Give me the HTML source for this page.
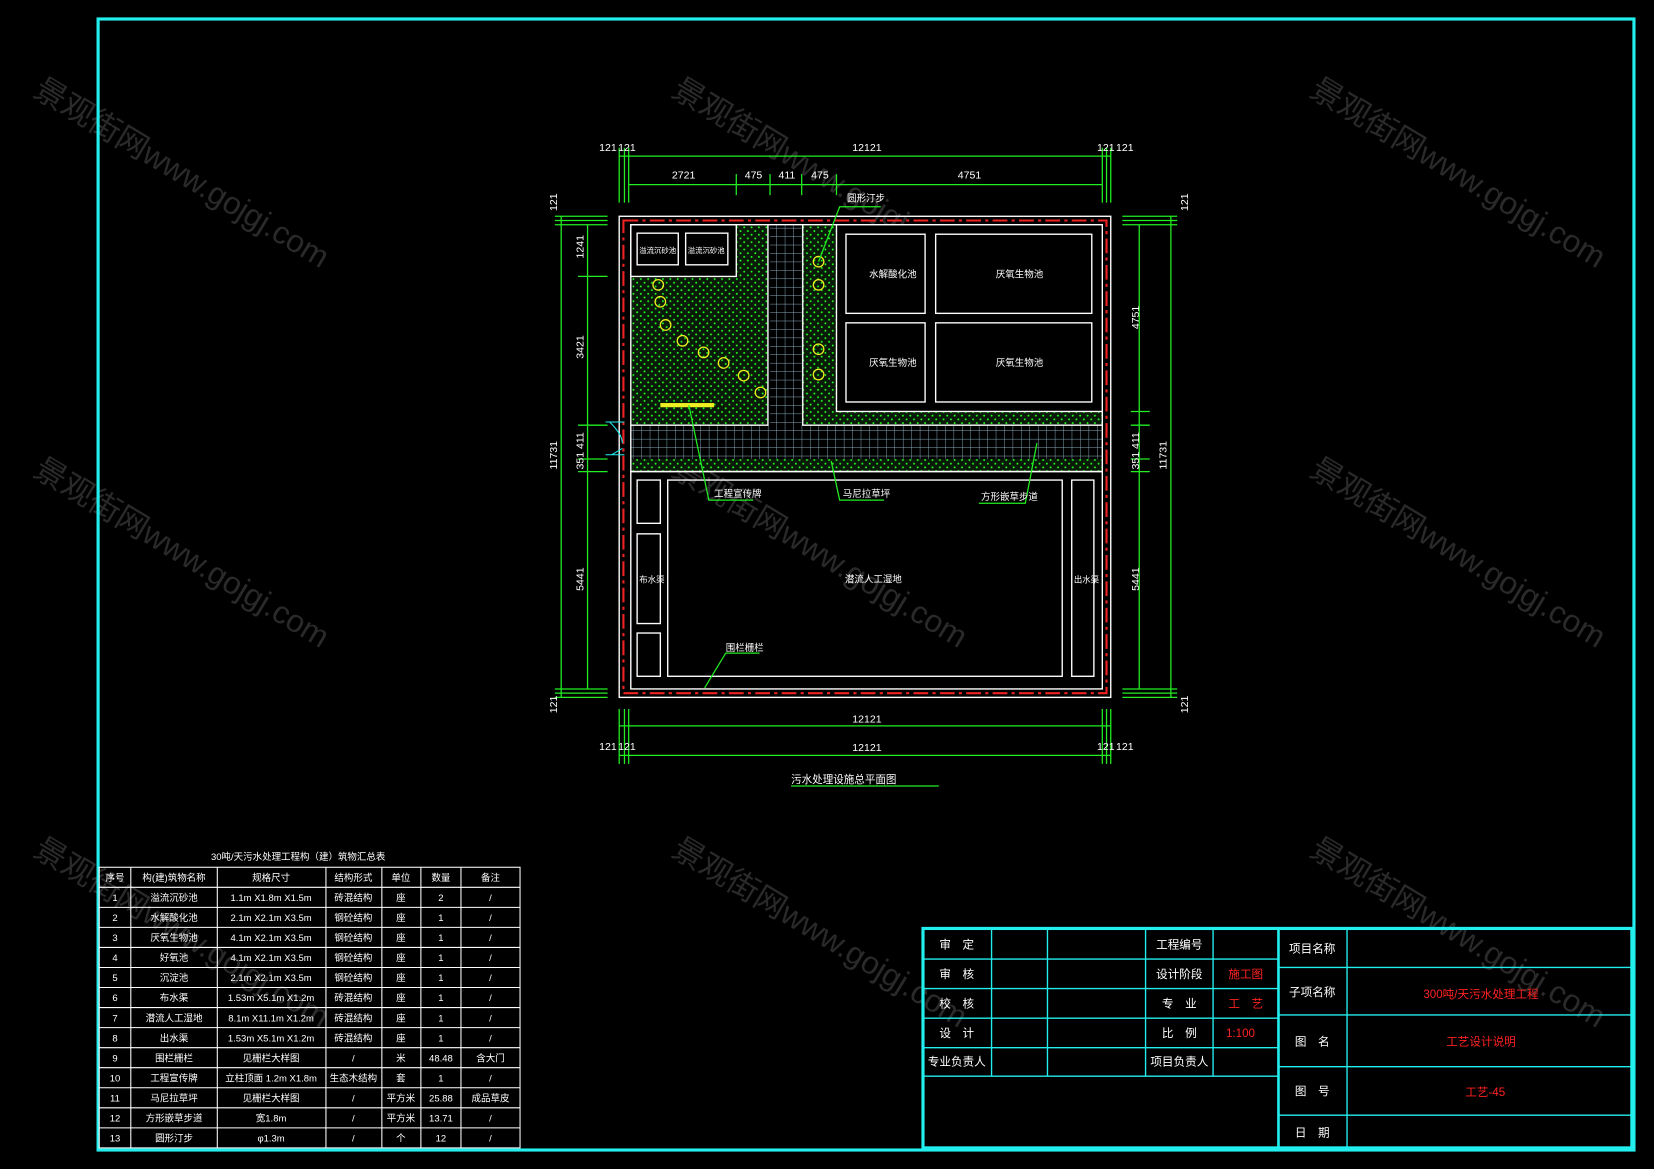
<!DOCTYPE html>
<html><head><meta charset="utf-8"><style>
html,body{margin:0;padding:0;background:#000;width:1654px;height:1169px;overflow:hidden}
svg{display:block}
text{font-family:"Liberation Sans","Noto Sans CJK SC",sans-serif;fill:#fff}
</style></head><body>
<svg width="1654" height="1169" viewBox="0 0 1568 1108" preserveAspectRatio="none" xmlns="http://www.w3.org/2000/svg">
<defs>
<pattern id="dots" width="7" height="7" patternUnits="userSpaceOnUse"><rect width="7" height="7" fill="#0a1a08"/><circle cx="2" cy="2" r="0.9" fill="#2f2"/><circle cx="5.5" cy="5.5" r="0.9" fill="#2f2"/></pattern>
<pattern id="grid" width="8" height="8" patternUnits="userSpaceOnUse"><rect width="8" height="8" fill="#000"/><path d="M0 0H8M0 0V8" stroke="#8ab" stroke-width="0.9"/></pattern>
</defs>
<rect width="1568" height="1108" fill="#000"/>
<!-- watermarks -->
<g font-size="30">
<text transform="translate(30,90) rotate(31)" style="fill:#2a2a2a">景观街网www.gojgj.com</text>
<text transform="translate(635,90) rotate(31)" style="fill:#2a2a2a">景观街网www.gojgj.com</text>
<text transform="translate(1240,90) rotate(31)" style="fill:#2a2a2a">景观街网www.gojgj.com</text>
<text transform="translate(30,450) rotate(31)" style="fill:#2a2a2a">景观街网www.gojgj.com</text>
<text transform="translate(635,450) rotate(31)" style="fill:#2a2a2a">景观街网www.gojgj.com</text>
<text transform="translate(1240,450) rotate(31)" style="fill:#2a2a2a">景观街网www.gojgj.com</text>
<text transform="translate(30,810) rotate(31)" style="fill:#2a2a2a">景观街网www.gojgj.com</text>
<text transform="translate(635,810) rotate(31)" style="fill:#2a2a2a">景观街网www.gojgj.com</text>
<text transform="translate(1240,810) rotate(31)" style="fill:#2a2a2a">景观街网www.gojgj.com</text>
</g>
<!-- frame -->
<rect x="93" y="18" width="1456" height="1072" fill="none" stroke="#2ee" stroke-width="3"/>

<!-- PLAN -->
<rect x="598" y="213" width="130" height="190" fill="url(#dots)"/>
<rect x="761" y="213" width="32" height="190" fill="url(#dots)"/>
<rect x="761" y="390" width="284" height="13" fill="url(#dots)"/>
<rect x="598" y="435" width="447" height="12" fill="url(#dots)"/>
<rect x="730" y="213" width="30" height="190" fill="url(#grid)"/>
<rect x="598" y="403" width="447" height="32" fill="url(#grid)"/>
<g fill="none" stroke="#fff" stroke-width="1.3">
<rect x="587" y="205" width="466" height="456"/>
<rect x="598" y="213" width="100" height="49" fill="#000"/>
<rect x="604" y="221" width="39" height="30"/>
<rect x="650" y="221" width="40" height="30"/>
<path d="M598 213H1045V447H598Z M728 213V403H598 M761 213V403H1045"/>
<rect x="793" y="213" width="252" height="177" fill="#000"/>
<rect x="802" y="222" width="75" height="75"/>
<rect x="887" y="222" width="148" height="75"/>
<rect x="802" y="306" width="75" height="75"/>
<rect x="887" y="306" width="148" height="75"/>
<path d="M598 447H1045V653H598Z"/>
<rect x="604" y="455" width="22" height="41"/>
<rect x="604" y="506" width="22" height="85"/>
<rect x="604" y="600" width="22" height="41"/>
<rect x="633" y="455" width="374" height="186"/>
<rect x="1016" y="455" width="21" height="186"/>
</g>
<rect x="591" y="209" width="458" height="448" fill="none" stroke="#e22" stroke-width="2" stroke-dasharray="14,4,3,4"/>
<g fill="none" stroke="#ee2" stroke-width="1.2">
<circle cx="624" cy="270" r="5"/><circle cx="626" cy="286" r="5"/><circle cx="631" cy="308" r="5"/><circle cx="647" cy="323" r="5"/><circle cx="667" cy="334" r="5"/><circle cx="686" cy="344" r="5"/><circle cx="705" cy="356" r="5"/><circle cx="721" cy="372" r="5"/>
<circle cx="776" cy="248" r="5"/><circle cx="776" cy="270" r="5"/><circle cx="776" cy="331" r="5"/><circle cx="776" cy="355" r="5"/>
</g>
<rect x="626" y="382" width="51" height="4" fill="#ee2"/>
<!-- door -->
<path d="M574 400H592M574 431H592 M578 400 Q590 412 590 420 M580 431 L590 425" stroke="#2ee" fill="none" stroke-width="1"/>
<!-- leaders -->
<g stroke="#2e2" fill="none" stroke-width="1.2">
<path d="M776 248L796 196H835"/>
<path d="M653 384L672 474H714"/>
<path d="M788 437L796 474H838"/>
<path d="M983 420L972 477H928"/>
<path d="M668 652L688 619H720"/>
</g>
<g font-size="9">
<text x="803" y="191">圆形汀步</text>
<text x="606" y="240" font-size="7">溢流沉砂池</text><text x="652" y="240" font-size="7">溢流沉砂池</text>
<text x="824" y="263">水解酸化池</text><text x="944" y="263">厌氧生物池</text>
<text x="824" y="347">厌氧生物池</text><text x="944" y="347">厌氧生物池</text>
<text x="677" y="471">工程宣传牌</text><text x="799" y="471">马尼拉草坪</text><text x="930" y="474">方形嵌草步道</text>
<text x="801" y="552">潜流人工湿地</text><text x="606" y="552" font-size="8">布水渠</text><text x="1018" y="552" font-size="8">出水渠</text>
<text x="688" y="617">围栏栅栏</text>
</g>
<!-- dimensions -->
<g stroke="#2e2" stroke-width="1.2" fill="none">
<path d="M587 148H1053 M596 175H1045 M587 688H1053 M587 716H1053"/>
<path d="M587 140V192 M592 140V192 M596 140V192 M1045 140V192 M1049 140V192 M1053 140V192"/>
<path d="M698 165V185 M730 165V185 M760 165V185 M793 165V185"/>
<path d="M587 672V724 M592 672V724 M596 672V724 M1045 672V724 M1049 672V724 M1053 672V724"/>
<path d="M532 205V661 M557 213V653 M1080 213V653 M1110 205V661"/>
<path d="M526 205H576 M526 209H576 M526 213H576 M548 262H576 M548 403H576 M548 435H576 M548 447H576 M526 653H576 M526 657H576 M526 661H576"/>
<path d="M1064 205H1116 M1064 209H1116 M1064 213H1116 M1072 390H1090 M1072 403H1090 M1072 435H1090 M1072 447H1090 M1064 653H1116 M1064 657H1116 M1064 661H1116"/>
<path d="M750 745H890"/>
</g>
<g font-size="10">
<text x="568" y="143">121</text><text x="586" y="143">121</text><text x="808" y="143">12121</text><text x="1040" y="143">121</text><text x="1058" y="143">121</text>
<text x="637" y="169">2721</text><text x="706" y="169">475</text><text x="738" y="169">411</text><text x="769" y="169">475</text><text x="908" y="169">4751</text>
<text x="808" y="685">12121</text><text x="808" y="712">12121</text>
<text x="568" y="711">121</text><text x="586" y="711">121</text><text x="1040" y="711">121</text><text x="1058" y="711">121</text>
<text transform="translate(528,200) rotate(-90)">121</text>
<text transform="translate(528,445) rotate(-90)">11731</text>
<text transform="translate(528,676) rotate(-90)">121</text>
<text transform="translate(553,245) rotate(-90)">1241</text>
<text transform="translate(553,340) rotate(-90)">3421</text>
<text transform="translate(553,445) rotate(-90)">351 411</text>
<text transform="translate(553,560) rotate(-90)">5441</text>
<text transform="translate(1126,200) rotate(-90)">121</text>
<text transform="translate(1106,445) rotate(-90)">11731</text>
<text transform="translate(1126,676) rotate(-90)">121</text>
<text transform="translate(1080,312) rotate(-90)">4751</text>
<text transform="translate(1080,445) rotate(-90)">351 411</text>
<text transform="translate(1080,560) rotate(-90)">5441</text>
<text x="750" y="742" font-size="10">污水处理设施总平面图</text>
</g>

<!-- TABLE -->
<g font-size="9">
<text x="200" y="815">30吨/天污水处理工程构（建）筑物汇总表</text>
</g>
<g stroke="#fff" stroke-width="1" fill="none">
<rect x="94" y="822" width="399" height="266"/>
<path d="M94 841H493M94 860H493M94 879H493M94 898H493M94 917H493M94 936H493M94 955H493M94 974H493M94 993H493M94 1012H493M94 1031H493M94 1050H493M94 1069H493"/>
<path d="M124 822V1088M206 822V1088M309 822V1088M362 822V1088M399 822V1088M437 822V1088"/>
</g>
<g font-size="9" text-anchor="middle">
<g transform="translate(0,835)"><text x="109">序号</text><text x="165">构(建)筑物名称</text><text x="257">规格尺寸</text><text x="335">结构形式</text><text x="380">单位</text><text x="418">数量</text><text x="465">备注</text></g>
<g transform="translate(0,854)"><text x="109">1</text><text x="165">溢流沉砂池</text><text x="257">1.1m X1.8m X1.5m</text><text x="335">砖混结构</text><text x="380">座</text><text x="418">2</text><text x="465">/</text></g>
<g transform="translate(0,873)"><text x="109">2</text><text x="165">水解酸化池</text><text x="257">2.1m X2.1m X3.5m</text><text x="335">钢砼结构</text><text x="380">座</text><text x="418">1</text><text x="465">/</text></g>
<g transform="translate(0,892)"><text x="109">3</text><text x="165">厌氧生物池</text><text x="257">4.1m X2.1m X3.5m</text><text x="335">钢砼结构</text><text x="380">座</text><text x="418">1</text><text x="465">/</text></g>
<g transform="translate(0,911)"><text x="109">4</text><text x="165">好氧池</text><text x="257">4.1m X2.1m X3.5m</text><text x="335">钢砼结构</text><text x="380">座</text><text x="418">1</text><text x="465">/</text></g>
<g transform="translate(0,930)"><text x="109">5</text><text x="165">沉淀池</text><text x="257">2.1m X2.1m X3.5m</text><text x="335">钢砼结构</text><text x="380">座</text><text x="418">1</text><text x="465">/</text></g>
<g transform="translate(0,949)"><text x="109">6</text><text x="165">布水渠</text><text x="257">1.53m X5.1m X1.2m</text><text x="335">砖混结构</text><text x="380">座</text><text x="418">1</text><text x="465">/</text></g>
<g transform="translate(0,968)"><text x="109">7</text><text x="165">潜流人工湿地</text><text x="257">8.1m X11.1m X1.2m</text><text x="335">砖混结构</text><text x="380">座</text><text x="418">1</text><text x="465">/</text></g>
<g transform="translate(0,987)"><text x="109">8</text><text x="165">出水渠</text><text x="257">1.53m X5.1m X1.2m</text><text x="335">砖混结构</text><text x="380">座</text><text x="418">1</text><text x="465">/</text></g>
<g transform="translate(0,1006)"><text x="109">9</text><text x="165">围栏栅栏</text><text x="257">见栅栏大样图</text><text x="335">/</text><text x="380">米</text><text x="418">48.48</text><text x="465">含大门</text></g>
<g transform="translate(0,1025)"><text x="109">10</text><text x="165">工程宣传牌</text><text x="257">立柱顶面 1.2m X1.8m</text><text x="335">生态木结构</text><text x="380">套</text><text x="418">1</text><text x="465">/</text></g>
<g transform="translate(0,1044)"><text x="109">11</text><text x="165">马尼拉草坪</text><text x="257">见栅栏大样图</text><text x="335">/</text><text x="380">平方米</text><text x="418">25.88</text><text x="465">成品草皮</text></g>
<g transform="translate(0,1063)"><text x="109">12</text><text x="165">方形嵌草步道</text><text x="257">宽1.8m</text><text x="335">/</text><text x="380">平方米</text><text x="418">13.71</text><text x="465">/</text></g>
<g transform="translate(0,1082)"><text x="109">13</text><text x="165">圆形汀步</text><text x="257">φ1.3m</text><text x="335">/</text><text x="380">个</text><text x="418">12</text><text x="465">/</text></g>
</g>

<!-- TITLE BLOCK -->
<rect x="875" y="880" width="672" height="208" fill="none" stroke="#2ee" stroke-width="3"/>
<g stroke="#2ee" stroke-width="1.3" fill="none">
<path d="M875 909H1212M875 937H1212M875 965H1212M875 993H1212M875 1020H1212"/>
<path d="M940 880V1020M993 880V1020M1086 880V1020M1150 880V1020"/>
<path d="M1212 880V1088" stroke-width="2.5"/>
<path d="M1277 880V1088M1212 917H1547M1212 962H1547M1212 1011H1547M1212 1057H1547"/>
</g>
<g font-size="11" text-anchor="middle">
<text x="907" y="899">审　定</text><text x="907" y="927">审　核</text><text x="907" y="955">校　核</text><text x="907" y="983">设　计</text><text x="907" y="1010">专业负责人</text>
<text x="1118" y="899">工程编号</text><text x="1118" y="927">设计阶段</text><text x="1118" y="955">专　业</text><text x="1118" y="983">比　例</text><text x="1118" y="1010">项目负责人</text>
<text x="1181" y="927" style="fill:#f22">施工图</text><text x="1181" y="955" style="fill:#f22">工　艺</text><text x="1176" y="983" style="fill:#f22">1:100</text>
<text x="1244" y="903">项目名称</text><text x="1244" y="944">子项名称</text><text x="1244" y="991">图　名</text><text x="1244" y="1038">图　号</text><text x="1244" y="1077">日　期</text>
<text x="1404" y="946" style="fill:#f22">300吨/天污水处理工程</text>
<text x="1404" y="991" style="fill:#f22">工艺设计说明</text>
<text x="1408" y="1039" style="fill:#f22">工艺-45</text>
</g>
</svg>
</body></html>
